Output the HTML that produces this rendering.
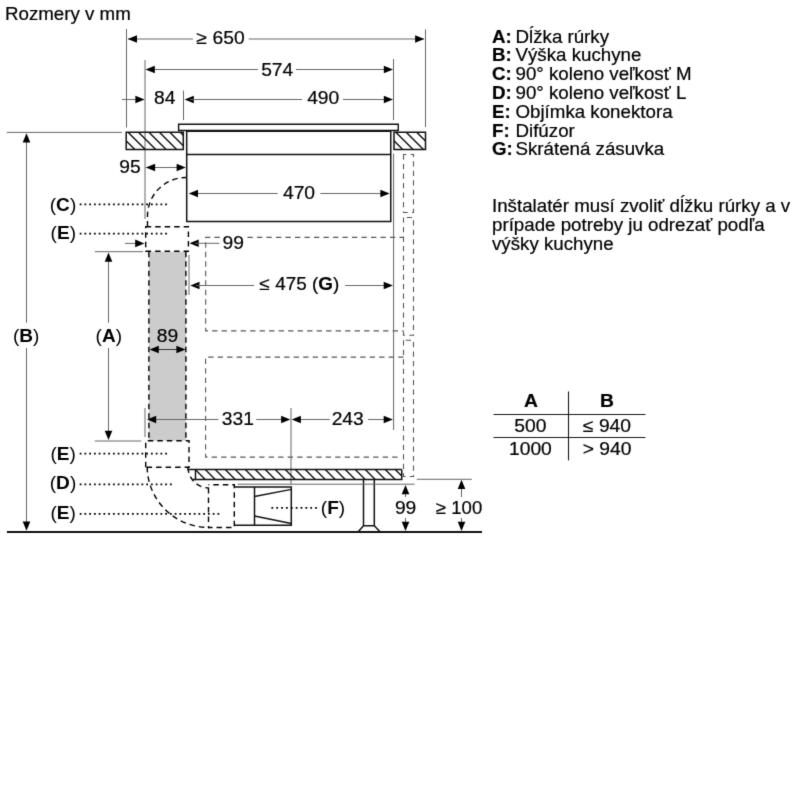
<!DOCTYPE html>
<html><head><meta charset="utf-8"><title>Rozmery</title>
<style>
html,body{margin:0;padding:0;background:#fff;}
body{width:800px;height:800px;overflow:hidden;}
svg{display:block;font-family:"Liberation Sans",sans-serif;}
#w{filter:grayscale(1);width:800px;height:800px;}
text{fill:#000;stroke:#000;stroke-width:0.2px;}
.lb{stroke:none;}
</style></head><body>
<div id="w"><svg width="800" height="800" viewBox="0 0 800 800">
<defs><filter id="bl" x="0" y="0" width="800" height="800" filterUnits="userSpaceOnUse" color-interpolation-filters="sRGB"><feConvolveMatrix order="3" kernelMatrix="0.0114 0.084 0.0114 0.084 0.618 0.084 0.0114 0.084 0.0114" edgeMode="duplicate"/></filter></defs>
<g filter="url(#bl)"><rect width="800" height="800" fill="#fff"/>
<text transform="translate(5 19.6) scale(1.07 1)" font-size="17.5" font-weight="normal" text-anchor="start" >Rozmery v mm</text>
<line x1="126.5" y1="29" x2="126.5" y2="127.5" stroke="#666666" stroke-width="1" />
<line x1="145" y1="60" x2="145" y2="219" stroke="#666666" stroke-width="1" />
<line x1="183.5" y1="90.5" x2="183.5" y2="120" stroke="#666666" stroke-width="1" />
<line x1="393.5" y1="59" x2="393.5" y2="120" stroke="#666666" stroke-width="1" />
<line x1="425.5" y1="29.4" x2="425.5" y2="127" stroke="#666666" stroke-width="1" />
<line x1="128" y1="39" x2="193" y2="39" stroke="#666666" stroke-width="1" />
<line x1="248.75" y1="39" x2="424" y2="39" stroke="#666666" stroke-width="1" />
<polygon points="127.80,39.00 137.00,35.20 137.00,42.80" fill="#000"/>
<polygon points="424.30,39.00 415.10,35.20 415.10,42.80" fill="#000"/>
<text transform="translate(220.6 43.75) scale(1.07 1)" font-size="18" font-weight="normal" text-anchor="middle" >≥ 650</text>
<line x1="146" y1="69.5" x2="258" y2="69.5" stroke="#666666" stroke-width="1" />
<line x1="296" y1="69.5" x2="392" y2="69.5" stroke="#666666" stroke-width="1" />
<polygon points="145.60,69.50 154.80,65.70 154.80,73.30" fill="#000"/>
<polygon points="393.00,69.50 383.80,65.70 383.80,73.30" fill="#000"/>
<text transform="translate(277.2 76.4) scale(1.07 1)" font-size="18" font-weight="normal" text-anchor="middle" >574</text>
<line x1="122" y1="99.5" x2="140" y2="99.5" stroke="#666666" stroke-width="1" />
<polygon points="144.60,99.50 135.40,95.70 135.40,103.30" fill="#000"/>
<text transform="translate(164.8 104.2) scale(1.07 1)" font-size="18" font-weight="normal" text-anchor="middle" >84</text>
<polygon points="184.60,99.50 193.80,95.70 193.80,103.30" fill="#000"/>
<line x1="190" y1="99.5" x2="302" y2="99.5" stroke="#666666" stroke-width="1" />
<line x1="343" y1="99.5" x2="392" y2="99.5" stroke="#666666" stroke-width="1" />
<polygon points="393.00,99.50 383.80,95.70 383.80,103.30" fill="#000"/>
<text transform="translate(323.2 104.2) scale(1.07 1)" font-size="18" font-weight="normal" text-anchor="middle" >490</text>
<clipPath id="c1"><rect x="126.2" y="132.2" width="57.10000000000001" height="17.30000000000001"/></clipPath>
<path d="M107.10,132.2 L124.40,149.5 M117.55,132.2 L134.85,149.5 M128.00,132.2 L145.30,149.5 M138.45,132.2 L155.75,149.5 M148.90,132.2 L166.20,149.5 M159.35,132.2 L176.65,149.5 M169.80,132.2 L187.10,149.5 M180.25,132.2 L197.55,149.5 M190.70,132.2 L208.00,149.5" stroke="#111" stroke-width="1.4" clip-path="url(#c1)"/>
<path d="M126.2,132.2 H183.3 V149.5 H126.2 Z" fill="none" stroke="#111" stroke-width="1.5" />
<clipPath id="c2"><rect x="394" y="132.2" width="31.5" height="17.30000000000001"/></clipPath>
<path d="M375.00,132.2 L392.30,149.5 M385.40,132.2 L402.70,149.5 M395.80,132.2 L413.10,149.5 M406.20,132.2 L423.50,149.5 M416.60,132.2 L433.90,149.5 M427.00,132.2 L444.30,149.5 M437.40,132.2 L454.70,149.5" stroke="#111" stroke-width="1.4" clip-path="url(#c2)"/>
<path d="M394,132.2 H425.5 V149.5 H394 Z" fill="none" stroke="#111" stroke-width="1.5" />
<path d="M178.6,124.25 H398.25 V130.5 H178.6 Z" fill="none" stroke="#111" stroke-width="1.4" />
<path d="M186.7,130.5 V221.5 H390.75 V130.5" fill="none" stroke="#111" stroke-width="1.5" />
<line x1="186.7" y1="154.4" x2="390.75" y2="154.4" stroke="#111" stroke-width="1.5" />
<line x1="186.7" y1="131.3" x2="390.75" y2="131.3" stroke="#111" stroke-width="1.2" />
<line x1="6.75" y1="132.4" x2="122" y2="132.4" stroke="#666666" stroke-width="1" />
<line x1="146" y1="167.5" x2="185" y2="167.5" stroke="#666666" stroke-width="1" />
<polygon points="145.90,167.50 155.10,163.70 155.10,171.30" fill="#000"/>
<polygon points="185.80,167.50 176.60,163.70 176.60,171.30" fill="#000"/>
<text transform="translate(130 173.1) scale(1.07 1)" font-size="18" font-weight="normal" text-anchor="middle" >95</text>
<line x1="190" y1="193.5" x2="277.6" y2="193.5" stroke="#666666" stroke-width="1" />
<line x1="320.3" y1="193.5" x2="389" y2="193.5" stroke="#666666" stroke-width="1" />
<polygon points="188.80,193.50 198.00,189.70 198.00,197.30" fill="#000"/>
<polygon points="389.60,193.50 380.40,189.70 380.40,197.30" fill="#000"/>
<text transform="translate(299 198.6) scale(1.07 1)" font-size="18" font-weight="normal" text-anchor="middle" >470</text>
<path d="M219.75,237.4 H205.7 V330.9 H403.5" fill="none" stroke="#555555" stroke-width="1.1" stroke-dasharray="5.3 4.2" />
<path d="M247.5,237.4 H403.5" fill="none" stroke="#555555" stroke-width="1.1" stroke-dasharray="5.3 4.2" />
<path d="M403.5,357.1 H205.6 V457.1 H401.5" fill="none" stroke="#555555" stroke-width="1.1" stroke-dasharray="5.3 4.2" />
<path d="M403.5,154.5 V212.5 H413.5 V154.5 Z" fill="none" stroke="#555555" stroke-width="1.1" stroke-dasharray="5.3 4.2" />
<path d="M403.5,217.5 V335.25 H413.5 V217.5 Z" fill="none" stroke="#555555" stroke-width="1.1" stroke-dasharray="5.3 4.2" />
<path d="M403.5,340.25 V476.5 H413.5 V340.25 Z" fill="none" stroke="#555555" stroke-width="1.1" stroke-dasharray="5.3 4.2" />
<line x1="393.6" y1="153.5" x2="393.6" y2="430" stroke="#666666" stroke-width="1" />
<rect x="148.9" y="251.7" width="37" height="188.9" fill="#cccccc"/>
<path d="M147.5,226.6 V216 A38.5,38.5 0 0 1 186,177.5" fill="none" stroke="#000" stroke-width="1.4" stroke-dasharray="5.5 4" />
<path d="M145.7,226.8 H188.4 V251.3 H145.7 Z" fill="none" stroke="#000" stroke-width="1.4" stroke-dasharray="5.5 4" />
<path d="M148.9,251.7 V440.6 M185.9,251.7 V440.6" fill="none" stroke="#000" stroke-width="1.4" stroke-dasharray="5.5 4" />
<path d="M145.7,467.2 V440.8 H189 V467.2 H145.7" fill="none" stroke="#000" stroke-width="1.4" stroke-dasharray="5.5 4" />
<path d="M147.2,467 A61.8,61 0 0 0 209,527.5" fill="none" stroke="#000" stroke-width="1.4" stroke-dasharray="5.5 4" />
<path d="M188,467.5 A21,21 0 0 0 209,488" fill="none" stroke="#000" stroke-width="1.4" stroke-dasharray="5.5 4" />
<path d="M208.5,488 V527.5 H234.3 V484.8 H208.5" fill="none" stroke="#000" stroke-width="1.4" stroke-dasharray="5.5 4" />
<line x1="125" y1="243.4" x2="136" y2="243.4" stroke="#666666" stroke-width="1" />
<polygon points="144.40,243.40 135.20,239.60 135.20,247.20" fill="#000"/>
<polygon points="189.50,243.30 198.70,239.50 198.70,247.10" fill="#000"/>
<line x1="195" y1="243.3" x2="219.5" y2="243.3" stroke="#666666" stroke-width="1" />
<text transform="translate(233.3 248.6) scale(1.07 1)" font-size="18" font-weight="normal" text-anchor="middle" >99</text>
<line x1="189" y1="255" x2="189" y2="295" stroke="#666666" stroke-width="1" />
<polygon points="190.30,285.50 199.50,281.70 199.50,289.30" fill="#000"/>
<line x1="196" y1="285.5" x2="254" y2="285.5" stroke="#666666" stroke-width="1" />
<line x1="345.25" y1="285.5" x2="388" y2="285.5" stroke="#666666" stroke-width="1" />
<polygon points="392.90,285.50 383.70,281.70 383.70,289.30" fill="#000"/>
<text transform="translate(259.6 290) scale(1.05 1)" font-size="18" font-weight="normal" text-anchor="start" >≤ 475 (<tspan font-weight="bold">G</tspan>)</text>
<line x1="152" y1="349.5" x2="183" y2="349.5" stroke="#333" stroke-width="1" />
<polygon points="149.60,349.50 158.80,345.70 158.80,353.30" fill="#000"/>
<polygon points="185.60,349.50 176.40,345.70 176.40,353.30" fill="#000"/>
<text transform="translate(167.4 341.8) scale(1.07 1)" font-size="18" font-weight="normal" text-anchor="middle" >89</text>
<line x1="94.8" y1="251.7" x2="143" y2="251.7" stroke="#666666" stroke-width="1" />
<line x1="94.8" y1="441" x2="141.2" y2="441" stroke="#666666" stroke-width="1" />
<line x1="108.5" y1="258" x2="108.5" y2="322.75" stroke="#666666" stroke-width="1" />
<line x1="108.5" y1="348" x2="108.5" y2="434" stroke="#666666" stroke-width="1" />
<polygon points="108.50,252.60 104.70,261.80 112.30,261.80" fill="#000"/>
<polygon points="108.50,439.90 104.70,430.70 112.30,430.70" fill="#000"/>
<text transform="translate(108.8 341.8) scale(1.03 1)" font-size="18.5" font-weight="normal" text-anchor="middle" class="lb">(<tspan font-weight="bold">A</tspan>)</text>
<line x1="26.5" y1="138" x2="26.5" y2="322.75" stroke="#666666" stroke-width="1" />
<line x1="26.5" y1="348" x2="26.5" y2="525" stroke="#666666" stroke-width="1" />
<polygon points="26.50,133.20 22.70,142.40 30.30,142.40" fill="#000"/>
<polygon points="26.50,530.80 22.70,521.60 30.30,521.60" fill="#000"/>
<text transform="translate(26.1 341.5) scale(1.03 1)" font-size="18.5" font-weight="normal" text-anchor="middle" class="lb">(<tspan font-weight="bold">B</tspan>)</text>
<line x1="145" y1="408" x2="145" y2="437" stroke="#666666" stroke-width="1" />
<line x1="291" y1="408" x2="291" y2="484.5" stroke="#666666" stroke-width="1" />
<line x1="152" y1="419.5" x2="218.5" y2="419.5" stroke="#666666" stroke-width="1" />
<line x1="256.25" y1="419.5" x2="285" y2="419.5" stroke="#666666" stroke-width="1" />
<polygon points="147.00,419.50 156.20,415.70 156.20,423.30" fill="#000"/>
<polygon points="290.30,419.50 281.10,415.70 281.10,423.30" fill="#000"/>
<text transform="translate(237.8 424.75) scale(1.07 1)" font-size="18" font-weight="normal" text-anchor="middle" >331</text>
<line x1="297" y1="419.5" x2="329.9" y2="419.5" stroke="#666666" stroke-width="1" />
<line x1="368.1" y1="419.5" x2="388" y2="419.5" stroke="#666666" stroke-width="1" />
<polygon points="291.70,419.50 300.90,415.70 300.90,423.30" fill="#000"/>
<polygon points="392.90,419.50 383.70,415.70 383.70,423.30" fill="#000"/>
<text transform="translate(347.7 424.75) scale(1.07 1)" font-size="18" font-weight="normal" text-anchor="middle" >243</text>
<clipPath id="c3"><rect x="195.5" y="469.5" width="206.25" height="10.0"/></clipPath>
<path d="M185.25,469.5 L195.25,479.5 M195.25,469.5 L205.25,479.5 M205.25,469.5 L215.25,479.5 M215.25,469.5 L225.25,479.5 M225.25,469.5 L235.25,479.5 M235.25,469.5 L245.25,479.5 M245.25,469.5 L255.25,479.5 M255.25,469.5 L265.25,479.5 M265.25,469.5 L275.25,479.5 M275.25,469.5 L285.25,479.5 M285.25,469.5 L295.25,479.5 M295.25,469.5 L305.25,479.5 M305.25,469.5 L315.25,479.5 M315.25,469.5 L325.25,479.5 M325.25,469.5 L335.25,479.5 M335.25,469.5 L345.25,479.5 M345.25,469.5 L355.25,479.5 M355.25,469.5 L365.25,479.5 M365.25,469.5 L375.25,479.5 M375.25,469.5 L385.25,479.5 M385.25,469.5 L395.25,479.5 M395.25,469.5 L405.25,479.5 M405.25,469.5 L415.25,479.5" stroke="#111" stroke-width="1.4" clip-path="url(#c3)"/>
<line x1="187.3" y1="469.5" x2="401.75" y2="469.5" stroke="#111" stroke-width="1.5" />
<path d="M195.5,469.5 V479.5 H401.75 V469.5" fill="none" stroke="#111" stroke-width="1.5" />
<line x1="192.5" y1="479.5" x2="196" y2="479.5" stroke="#111" stroke-width="1.5" />
<path d="M363.5,479.5 V525.75 M374.3,479.5 V525.75" fill="none" stroke="#111" stroke-width="1.5" />
<path d="M358.25,531.75 L363.5,525.75 H374.3 L380,531.75" fill="#fff" stroke="#111" stroke-width="1.5" />
<path d="M234.4,486.9 H291.3 V525.3 H234.4" fill="none" stroke="#111" stroke-width="1.5" />
<line x1="254.5" y1="486.9" x2="254.5" y2="525.3" stroke="#111" stroke-width="1.5" />
<line x1="254.5" y1="496.5" x2="291.3" y2="489.3" stroke="#111" stroke-width="1.3" />
<line x1="254.5" y1="516" x2="291.3" y2="523.5" stroke="#111" stroke-width="1.3" />
<line x1="237.75" y1="484.2" x2="414.5" y2="484.2" stroke="#666666" stroke-width="1" />
<line x1="416.75" y1="479.3" x2="471.8" y2="479.3" stroke="#666666" stroke-width="1" />
<line x1="405.5" y1="490" x2="405.5" y2="497" stroke="#666666" stroke-width="1" />
<line x1="405.5" y1="518" x2="405.5" y2="525" stroke="#666666" stroke-width="1" />
<polygon points="405.50,485.00 401.70,494.20 409.30,494.20" fill="#000"/>
<polygon points="405.50,530.90 401.70,521.70 409.30,521.70" fill="#000"/>
<text transform="translate(405.6 514.25) scale(1.07 1)" font-size="18" font-weight="normal" text-anchor="middle" >99</text>
<line x1="461.5" y1="485" x2="461.5" y2="497" stroke="#666666" stroke-width="1" />
<line x1="461.5" y1="518" x2="461.5" y2="525" stroke="#666666" stroke-width="1" />
<polygon points="461.50,479.75 457.70,488.95 465.30,488.95" fill="#000"/>
<polygon points="461.50,530.90 457.70,521.70 465.30,521.70" fill="#000"/>
<text transform="translate(459.1 514.25) scale(1.03 1)" font-size="18" font-weight="normal" text-anchor="middle" >≥ 100</text>
<line x1="6.9" y1="532" x2="482" y2="532" stroke="#111" stroke-width="2" />
<line x1="79.70" y1="204.4" x2="167.00" y2="204.4" stroke="#000" stroke-width="1.8" stroke-dasharray="1.8 2.95"/>
<text transform="translate(63 210.6) scale(1.03 1)" font-size="18.5" font-weight="normal" text-anchor="middle" class="lb">(<tspan font-weight="bold">C</tspan>)</text>
<line x1="79.70" y1="233.6" x2="167.00" y2="233.6" stroke="#000" stroke-width="1.8" stroke-dasharray="1.8 2.95"/>
<text transform="translate(63.3 239.1) scale(1.03 1)" font-size="18.5" font-weight="normal" text-anchor="middle" class="lb">(<tspan font-weight="bold">E</tspan>)</text>
<line x1="79.70" y1="453.7" x2="167.00" y2="453.7" stroke="#000" stroke-width="1.8" stroke-dasharray="1.8 2.95"/>
<text transform="translate(63.1 459.8) scale(1.03 1)" font-size="18.5" font-weight="normal" text-anchor="middle" class="lb">(<tspan font-weight="bold">E</tspan>)</text>
<line x1="79.70" y1="484.4" x2="171.75" y2="484.4" stroke="#000" stroke-width="1.8" stroke-dasharray="1.8 2.95"/>
<text transform="translate(63 488.8) scale(1.03 1)" font-size="18.5" font-weight="normal" text-anchor="middle" class="lb">(<tspan font-weight="bold">D</tspan>)</text>
<line x1="79.70" y1="513.9" x2="219.25" y2="513.9" stroke="#000" stroke-width="1.8" stroke-dasharray="1.8 2.95"/>
<text transform="translate(63.1 518.8) scale(1.03 1)" font-size="18.5" font-weight="normal" text-anchor="middle" class="lb">(<tspan font-weight="bold">E</tspan>)</text>
<line x1="271.40" y1="507.8" x2="316.94" y2="507.8" stroke="#000" stroke-width="1.8" stroke-dasharray="1.8 3.06"/>
<text transform="translate(333 514) scale(1.03 1)" font-size="18.5" font-weight="normal" text-anchor="middle" class="lb">(<tspan font-weight="bold">F</tspan>)</text>
<text transform="translate(492 42.5) scale(1.07 1)" font-size="17.5" font-weight="bold" text-anchor="start" >A:</text>
<text transform="translate(515.5 42.5) scale(1.07 1)" font-size="17.5" font-weight="normal" text-anchor="start" >Dĺžka rúrky</text>
<text transform="translate(492 61.3) scale(1.07 1)" font-size="17.5" font-weight="bold" text-anchor="start" >B:</text>
<text transform="translate(515.5 61.3) scale(1.07 1)" font-size="17.5" font-weight="normal" text-anchor="start" >Výška kuchyne</text>
<text transform="translate(492 80.1) scale(1.07 1)" font-size="17.5" font-weight="bold" text-anchor="start" >C:</text>
<text transform="translate(515.5 80.1) scale(1.07 1)" font-size="17.5" font-weight="normal" text-anchor="start" >90° koleno veľkosť M</text>
<text transform="translate(492 98.9) scale(1.07 1)" font-size="17.5" font-weight="bold" text-anchor="start" >D:</text>
<text transform="translate(515.5 98.9) scale(1.07 1)" font-size="17.5" font-weight="normal" text-anchor="start" >90° koleno veľkosť L</text>
<text transform="translate(492 117.7) scale(1.07 1)" font-size="17.5" font-weight="bold" text-anchor="start" >E:</text>
<text transform="translate(515.5 117.7) scale(1.07 1)" font-size="17.5" font-weight="normal" text-anchor="start" >Objímka konektora</text>
<text transform="translate(492 136.5) scale(1.07 1)" font-size="17.5" font-weight="bold" text-anchor="start" >F:</text>
<text transform="translate(515.5 136.5) scale(1.07 1)" font-size="17.5" font-weight="normal" text-anchor="start" >Difúzor</text>
<text transform="translate(492 155.3) scale(1.07 1)" font-size="17.5" font-weight="bold" text-anchor="start" >G:</text>
<text transform="translate(515.5 155.3) scale(1.07 1)" font-size="17.5" font-weight="normal" text-anchor="start" >Skrátená zásuvka</text>
<text transform="translate(492 212.0) scale(1.07 1)" font-size="17.5" font-weight="normal" text-anchor="start" >Inštalatér musí zvoliť dĺžku rúrky a v</text>
<text transform="translate(492 230.75) scale(1.07 1)" font-size="17.5" font-weight="normal" text-anchor="start" >prípade potreby ju odrezať podľa</text>
<text transform="translate(492 249.5) scale(1.07 1)" font-size="17.5" font-weight="normal" text-anchor="start" >výšky kuchyne</text>
<line x1="568.5" y1="391.4" x2="568.5" y2="460.4" stroke="#1a1a1a" stroke-width="1.1" />
<line x1="493.5" y1="414.5" x2="645.4" y2="414.5" stroke="#1a1a1a" stroke-width="1.1" />
<line x1="493.5" y1="437.5" x2="645.4" y2="437.5" stroke="#1a1a1a" stroke-width="1.1" />
<text transform="translate(530.9 407.3) scale(1.07 1)" font-size="18" font-weight="bold" text-anchor="middle" >A</text>
<text transform="translate(607 407.3) scale(1.07 1)" font-size="18" font-weight="bold" text-anchor="middle" >B</text>
<text transform="translate(530.4 432.2) scale(1.07 1)" font-size="18" font-weight="normal" text-anchor="middle" >500</text>
<text transform="translate(607 432.2) scale(1.07 1)" font-size="18" font-weight="normal" text-anchor="middle" >≤ 940</text>
<text transform="translate(530.4 455.1) scale(1.07 1)" font-size="18" font-weight="normal" text-anchor="middle" >1000</text>
<text transform="translate(607 455.1) scale(1.07 1)" font-size="18" font-weight="normal" text-anchor="middle" >&gt; 940</text>
</g>
</svg></div>
</body></html>
